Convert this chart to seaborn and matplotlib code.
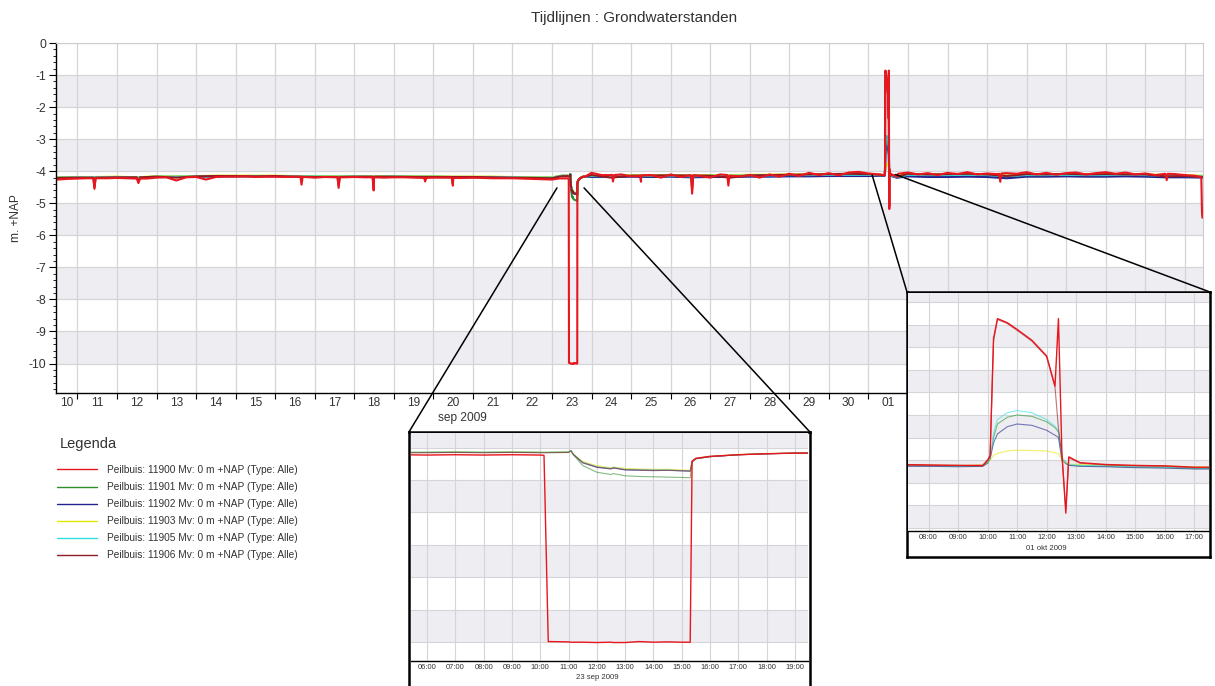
import numpy as np
import pandas as pd
import matplotlib
matplotlib.use("Agg")
import matplotlib.pyplot as plt
import matplotlib.dates as mdates
import matplotlib.transforms as mtransforms
from matplotlib.patches import ConnectionPatch
from matplotlib.lines import Line2D
from matplotlib.ticker import (MultipleLocator, FixedLocator, FixedFormatter,
                               NullFormatter)
import seaborn as sns

sns.set_theme(style="white")
plt.rcParams["font.family"] = ["Liberation Sans", "DejaVu Sans"]
plt.rcParams["axes.unicode_minus"] = False

nan = np.nan

# ---------------------------------------------------------------- data
PEILBUIZEN = ["11900", "11901", "11902", "11903", "11905", "11906"]
KLEUREN = ["#e8161e", "#2f8f2f", "#23238f", "#e6e600", "#35dede", "#8f1c22"]
DRAW_ORDER = ["11901", "11902", "11903", "11905", "11906", "11900"]

# 11900: 6-hourly readings from 10 sep 2009 12:00
level_11900 = [
    -4.26, -4.24,
    -4.23, -4.22, -4.22, -4.22,
    -4.21, -4.22, -4.23, -4.23,
    -4.20, -4.19, -4.29, -4.19,
    -4.18, -4.26, -4.18, -4.17,
    -4.17, -4.16, -4.18, -4.17,
    -4.17, -4.18, -4.17, -4.18,
    -4.20, -4.18, -4.19, -4.19,
    -4.18, -4.19, -4.19, -4.20,
    -4.19, -4.19, -4.20, -4.21,
    -4.20, -4.20, -4.21, -4.21,
    -4.20, -4.21, -4.22, -4.22,
    -4.22, -4.23, -4.24, -4.25,
    -4.26, nan, nan, nan,
    -4.05, -4.12, -4.12, -4.10,
    -4.16, -4.14, -4.12, -4.20,
    -4.10, -4.18, -4.13, -4.15,
    -4.20, -4.10, -4.14, -4.16,
    -4.12, -4.20, -4.10, -4.17,
    -4.08, -4.15, -4.05, -4.12,
    -4.06, -4.13, -4.04, -4.02,
    -4.07, -4.10, nan, -4.08,
    -4.04, -4.10, -4.06, -4.12,
    -4.05, -4.09, -4.03, -4.10,
    -4.07, -4.09, -4.06, -4.08,
    -4.03, -4.10, -4.05, -4.11,
    -4.06, -4.04, -4.10, -4.06,
    -4.03, -4.08, -4.04, -4.10,
    -4.07, -4.12, -4.08, -4.09,
    -4.12, -4.14,
]
# short dips of 11900 (before, lowest, after)
dip_times_11900 = [
    "2009-09-11 09:40", "2009-09-11 10:20", "2009-09-11 11:00",
    "2009-09-12 12:00", "2009-09-12 13:00", "2009-09-12 14:00",
    "2009-09-16 15:20", "2009-09-16 16:00", "2009-09-16 16:40",
    "2009-09-17 13:50", "2009-09-17 14:30", "2009-09-17 15:10",
    "2009-09-18 11:05", "2009-09-18 11:45", "2009-09-18 12:25",
    "2009-09-19 18:20", "2009-09-19 19:00", "2009-09-19 19:40",
    "2009-09-20 11:10", "2009-09-20 11:50", "2009-09-20 12:30",
    "2009-09-24 12:20", "2009-09-24 13:00", "2009-09-24 13:40",
    "2009-09-25 05:20", "2009-09-25 06:00", "2009-09-25 06:40",
    "2009-09-26 12:20", "2009-09-26 13:00", "2009-09-26 13:40",
    "2009-09-27 10:20", "2009-09-27 11:00", "2009-09-27 11:40",
    "2009-10-04 07:20", "2009-10-04 08:00", "2009-10-04 08:40",
    "2009-10-08 12:20", "2009-10-08 13:00", "2009-10-08 13:40",
]
dip_11900 = [
    -4.22, -4.55, -4.22,
    -4.22, -4.37, -4.23,
    -4.17, -4.42, -4.18,
    -4.19, -4.52, -4.19,
    -4.19, -4.60, -4.19,
    -4.20, -4.32, -4.21,
    -4.20, -4.45, -4.21,
    -4.11, -4.32, -4.12,
    -4.15, -4.33, -4.13,
    -4.14, -4.70, -4.13,
    -4.12, -4.45, -4.14,
    -4.08, -4.33, -4.07,
    -4.09, -4.28, -4.08,
]

# other wells: 12-hourly readings from 10 sep 2009 12:00
level_11901 = [
    -4.20, -4.19, -4.19, -4.18, -4.20, -4.17, -4.17, -4.16, -4.15, -4.15,
    -4.15, -4.15, -4.16, -4.16, -4.17, -4.16, -4.17, -4.16, -4.17, -4.17,
    -4.18, -4.18, -4.18, -4.19, -4.20, -4.20, nan, -4.16, -4.16, -4.15,
    -4.15, -4.14, -4.16, -4.15, -4.15, -4.14, -4.14, -4.13, -4.13, -4.12,
    -4.12, -4.12, nan, -4.12, -4.13, -4.13, -4.12, -4.13, -4.16, -4.13,
    -4.13, -4.12, -4.13, -4.13, -4.13, -4.14, -4.15, -4.16, -4.17,
]
level_11902 = [
    -4.21, -4.20, -4.20, -4.19, -4.21, -4.18, -4.18, -4.17, -4.16, -4.16,
    -4.16, -4.16, -4.17, -4.17, -4.18, -4.17, -4.18, -4.17, -4.18, -4.18,
    -4.19, -4.19, -4.19, -4.20, -4.21, -4.21, nan, -4.18, -4.18, -4.17,
    -4.18, -4.17, -4.19, -4.18, -4.18, -4.17, -4.17, -4.16, -4.16, -4.15,
    -4.15, -4.15, nan, -4.16, -4.18, -4.18, -4.17, -4.18, -4.22, -4.17,
    -4.17, -4.16, -4.17, -4.17, -4.16, -4.17, -4.19, -4.19, -4.20,
]
level_11903 = [
    -4.19, -4.18, -4.18, -4.17, -4.19, -4.16, -4.16, -4.15, -4.14, -4.14,
    -4.14, -4.14, -4.15, -4.15, -4.16, -4.15, -4.16, -4.15, -4.16, -4.16,
    -4.17, -4.17, -4.17, -4.18, -4.19, -4.19, nan, -4.13, -4.14, -4.12,
    -4.13, -4.12, -4.14, -4.12, -4.12, -4.11, -4.11, -4.10, -4.10, -4.09,
    -4.09, -4.09, nan, -4.09, -4.10, -4.10, -4.09, -4.10, -4.13, -4.10,
    -4.10, -4.09, -4.10, -4.10, -4.09, -4.10, -4.12, -4.13, -4.14,
]
level_11905 = [
    -4.20, -4.19, -4.19, -4.18, -4.20, -4.17, -4.17, -4.16, -4.15, -4.15,
    -4.15, -4.15, -4.16, -4.16, -4.17, -4.16, -4.17, -4.16, -4.17, -4.17,
    -4.18, -4.18, -4.18, -4.19, -4.20, -4.20, nan, -4.15, -4.16, -4.14,
    -4.15, -4.14, -4.16, -4.14, -4.14, -4.13, -4.13, -4.12, -4.12, -4.11,
    -4.11, -4.11, nan, -4.11, -4.12, -4.12, -4.11, -4.12, -4.15, -4.12,
    -4.12, -4.11, -4.12, -4.12, -4.11, -4.12, -4.14, -4.15, -4.16,
]
level_11906 = [
    -4.21, -4.20, -4.20, -4.19, -4.19, -4.17, -4.20, -4.16, -4.15, -4.15,
    -4.16, -4.15, -4.17, -4.18, -4.18, -4.17, -4.18, -4.17, -4.18, -4.18,
    -4.18, -4.18, -4.19, -4.20, -4.21, -4.22, nan, -4.12, -4.20, -4.14,
    -4.13, -4.13, -4.13, -4.14, -4.20, -4.13, -4.12, -4.11, -4.10, -4.09,
    -4.08, -4.09, nan, -4.08, -4.10, -4.09, -4.08, -4.10, -4.15, -4.09,
    -4.10, -4.08, -4.10, -4.09, -4.10, -4.10, -4.16, -4.15, -4.18,
]
dip_times_11906 = [
    "2009-09-11 09:40", "2009-09-11 10:20", "2009-09-11 11:00",
    "2009-09-12 12:00", "2009-09-12 13:00", "2009-09-12 14:00",
    "2009-09-17 13:50", "2009-09-17 14:30", "2009-09-17 15:10",
    "2009-09-18 11:05", "2009-09-18 11:45", "2009-09-18 12:25",
    "2009-09-20 11:10", "2009-09-20 11:50", "2009-09-20 12:30",
    "2009-09-26 12:20", "2009-09-26 13:00", "2009-09-26 13:40",
]
dip_11906 = [
    -4.20, -4.50, -4.20,
    -4.19, -4.33, -4.19,
    -4.18, -4.45, -4.18,
    -4.17, -4.40, -4.17,
    -4.18, -4.40, -4.18,
    -4.13, -4.55, -4.13,
]

# pumping test 23 sep 2009
sep23_clock = ["05:00", "06:00", "07:00", "08:00", "09:00", "10:00", "10:08",
               "10:17", "11:00", "11:05", "11:10", "11:30", "12:00", "12:30",
               "12:35", "13:00", "13:30", "14:00", "14:30", "15:00", "15:18",
               "15:22", "15:30", "16:00", "17:00", "18:00", "19:00", "20:00"]
sep23_11900 = [-4.22, -4.23, -4.22, -4.23, -4.22, -4.23, -4.24, -9.98, -9.99,
               -10.00, -10.00, -10.00, -10.01, -10.00, -10.01, -10.01, -9.98,
               -10.00, -9.99, -10.00, -10.00, -4.42, -4.33, -4.27, -4.22,
               -4.19, -4.17, -4.17]
sep23_11901 = [-4.15, -4.15, -4.14, -4.15, -4.14, -4.15, -4.15, -4.15, -4.14,
               -4.09, -4.22, -4.55, -4.76, -4.83, -4.80, -4.87, -4.89, -4.90,
               -4.91, -4.92, -4.93, -4.45, -4.35, -4.28, -4.22, -4.19, -4.17,
               -4.17]
sep23_11902 = [-4.15, -4.15, -4.14, -4.15, -4.14, -4.15, -4.15, -4.15, -4.14,
               -4.09, -4.20, -4.47, -4.61, -4.66, -4.63, -4.69, -4.70, -4.71,
               -4.70, -4.72, -4.73, -4.44, -4.34, -4.28, -4.22, -4.19, -4.17,
               -4.17]
sep23_11903 = [-4.14, -4.14, -4.13, -4.14, -4.13, -4.14, -4.14, -4.14, -4.13,
               -4.09, -4.19, -4.43, -4.56, -4.62, -4.60, -4.64, -4.66, -4.67,
               -4.67, -4.69, -4.70, -4.43, -4.33, -4.27, -4.21, -4.18, -4.17,
               -4.16]
sep23_11905 = [-4.15, -4.14, -4.14, -4.14, -4.14, -4.14, -4.15, -4.14, -4.14,
               -4.09, -4.20, -4.45, -4.59, -4.64, -4.61, -4.67, -4.68, -4.69,
               -4.69, -4.71, -4.72, -4.43, -4.34, -4.27, -4.22, -4.19, -4.17,
               -4.17]
sep23_11906 = [-4.16, -4.16, -4.15, -4.16, -4.15, -4.16, -4.16, -4.16, -4.15,
               -4.10, -4.21, -4.46, -4.60, -4.65, -4.62, -4.68, -4.69, -4.70,
               -4.70, -4.71, -4.72, -4.43, -4.34, -4.28, -4.22, -4.19, -4.17,
               -4.17]

# infiltration test 01 okt 2009
oct01_clock = ["07:00", "08:00", "09:00", "09:50", "10:00", "10:05", "10:12",
               "10:20", "10:40", "11:00", "11:30", "12:00", "12:17", "12:24",
               "12:31", "12:39", "12:45", "13:08", "14:00", "15:00", "16:00",
               "17:00", "17:40"]
oct01_11900 = [-4.10, -4.11, -4.12, -4.12, -4.00, -3.90, -1.30, -0.86, -0.95,
               -1.10, -1.34, -1.69, -2.36, -0.86, -3.85, -5.18, -3.93, -4.06,
               -4.10, -4.12, -4.13, -4.16, -4.16]
oct01_11901 = [-4.13, -4.13, -4.14, -4.13, -4.06, -3.97, -3.50, -3.20, -3.05,
               -3.00, -3.03, -3.15, -3.28, -3.38, -3.97, -4.06, -4.11, -4.13,
               -4.14, -4.16, -4.17, -4.19, -4.19]
oct01_11902 = [-4.14, -4.14, -4.15, -4.14, -4.07, -3.98, -3.62, -3.42, -3.26,
               -3.20, -3.23, -3.34, -3.45, -3.50, -4.00, -4.08, -4.12, -4.14,
               -4.15, -4.17, -4.18, -4.20, -4.20]
oct01_11903 = [-4.11, -4.11, -4.12, -4.11, -4.05, -4.00, -3.90, -3.85, -3.80,
               -3.78, -3.79, -3.80, -3.84, -3.86, -4.00, -4.06, -4.09, -4.10,
               -4.11, -4.12, -4.13, -4.15, -4.15]
oct01_11905 = [-4.12, -4.12, -4.13, -4.12, -4.05, -3.95, -3.40, -3.10, -2.95,
               -2.90, -2.95, -3.10, -3.25, -3.35, -3.95, -4.05, -4.10, -4.12,
               -4.13, -4.15, -4.16, -4.18, -4.18]
oct01_11906 = [-4.11, -4.12, -4.12, -4.13, -4.02, -3.92, -1.35, -0.88, -0.97,
               -1.12, -1.36, -1.71, -2.38, -3.30, -3.88, -5.10, -3.95, -4.07,
               -4.11, -4.13, -4.14, -4.17, -4.17]

# last readings of 11900 on 09 okt 2009
tail_clock = ["10:00", "10:25", "10:40", "11:30"]
tail_11900 = [-4.19, -5.30, -5.45, -5.44]

# ---------------------------------------------------------------- frames
t_6h = pd.date_range("2009-09-10 12:00", periods=len(level_11900), freq="6h")
t_12h = pd.date_range("2009-09-10 12:00", periods=len(level_11901), freq="12h")
t_sep23 = pd.to_datetime(["2009-09-23 " + c for c in sep23_clock])
t_oct01 = pd.to_datetime(["2009-10-01 " + c for c in oct01_clock])
t_tail = pd.to_datetime(["2009-10-09 " + c for c in tail_clock])

coarse = {"11900": (t_6h, level_11900), "11901": (t_12h, level_11901),
          "11902": (t_12h, level_11902), "11903": (t_12h, level_11903),
          "11905": (t_12h, level_11905), "11906": (t_12h, level_11906)}
sep23 = dict(zip(PEILBUIZEN, [sep23_11900, sep23_11901, sep23_11902,
                              sep23_11903, sep23_11905, sep23_11906]))
oct01 = dict(zip(PEILBUIZEN, [oct01_11900, oct01_11901, oct01_11902,
                              oct01_11903, oct01_11905, oct01_11906]))
extras = {
    "11900": [(pd.to_datetime(dip_times_11900), dip_11900),
              (t_tail, tail_11900)],
    "11906": [(pd.to_datetime(dip_times_11906), dip_11906)],
}


def frame(pieces):
    rows = [pd.DataFrame({"tijd": t, "stand": v, "peilbuis": pid})
            for pid, t, v in pieces]
    return pd.concat(rows, ignore_index=True).dropna().sort_values("tijd")


main_pieces = []
for pid in PEILBUIZEN:
    main_pieces.append((pid, *coarse[pid]))
    main_pieces.append((pid, t_sep23, sep23[pid]))
    main_pieces.append((pid, t_oct01, oct01[pid]))
    for t, v in extras.get(pid, []):
        main_pieces.append((pid, t, v))
main_df = frame(main_pieces)
sep23_df = frame([(pid, t_sep23, sep23[pid]) for pid in PEILBUIZEN])
oct01_df = frame([(pid, t_oct01, oct01[pid]) for pid in PEILBUIZEN])

PALETTE = dict(zip(PEILBUIZEN, KLEUREN))
TEXT = "#333333"
BAND = "#eeeef2"
GRID = "#d4d4d9"

# ---------------------------------------------------------------- main chart
fig = plt.figure(figsize=(12.15, 6.86), dpi=100)
ax = fig.add_axes([0.0461, 0.4271, 0.9440, 0.5102], zorder=0)
ax.set_facecolor("white")
for top in range(-1, -11, -2):
    ax.axhspan(top - 1, top, color=BAND, lw=0, zorder=0)

sns.lineplot(data=main_df, x="tijd", y="stand", hue="peilbuis",
             hue_order=DRAW_ORDER, palette=PALETTE, estimator=None, sort=True,
             lw=1.5, legend=False, ax=ax)

XLIM = (pd.Timestamp("2009-09-10 11:00"), pd.Timestamp("2009-10-09 11:00"))
ax.set_xlim(*XLIM)
ax.set_ylim(-10.92, 0)
ax.set_axisbelow(True)
ax.grid(True, which="major", color=GRID, lw=0.9)

ax.yaxis.set_major_locator(MultipleLocator(1))
ax.yaxis.set_minor_locator(MultipleLocator(0.2))
ax.tick_params(axis="y", which="major", direction="out", length=5, width=0.8,
               color="black", labelsize=8.8, labelcolor=TEXT, pad=2, left=True)
ax.tick_params(axis="y", which="minor", direction="out", length=2.5,
               width=0.6, color="black", left=True)

days = pd.date_range(XLIM[0].normalize(), XLIM[1].normalize(), freq="D")
label_pos, label_txt = [], []
for d in days:
    a = max(d, XLIM[0])
    b = min(d + pd.Timedelta(days=1), XLIM[1])
    label_pos.append(a + (b - a) / 2)
    label_txt.append(d.strftime("%d"))
ax.xaxis.set_major_locator(mdates.DayLocator())
ax.xaxis.set_major_formatter(NullFormatter())
ax.xaxis.set_minor_locator(FixedLocator(mdates.date2num(label_pos)))
ax.xaxis.set_minor_formatter(FixedFormatter(label_txt))
ax.tick_params(axis="x", which="major", direction="out", length=4, width=0.8,
               color="black", bottom=True)
ax.tick_params(axis="x", which="minor", length=0, labelsize=8.6,
               labelcolor=TEXT, pad=3, bottom=True)

# month caption under the September part of the time axis
month_txt = "sep 2009"
m0, m1 = XLIM[0], pd.Timestamp("2009-10-01")
blend = mtransforms.blended_transform_factory(ax.transData, ax.transAxes)
ax.text(mdates.date2num(m0 + (m1 - m0) / 2), -0.072, month_txt,
        transform=blend, ha="center", va="center", fontsize=8.6, color=TEXT)

for side in ("left", "bottom"):
    ax.spines[side].set_color("black")
    ax.spines[side].set_linewidth(1.0)
for side in ("top", "right"):
    ax.spines[side].set_color("#cccccc")
    ax.spines[side].set_linewidth(0.8)

ax.set_xlabel("")
ax.set_ylabel("m. +NAP", fontsize=8.6, color=TEXT)
ax.yaxis.set_label_coords(-0.0296, 0.5)

fig.text(0.522, 1 - 18 / 686, "Tijdlijnen : Grondwaterstanden",
         ha="center", va="center", fontsize=11, color=TEXT)


# ---------------------------------------------------------------- zoom panels
def zoom_panel(frame_rect, ax_rect, df, xlim, ylim, step, grey_tops,
               date_text, date_y):
    box = fig.add_axes(frame_rect, zorder=3)
    box.set_facecolor("white")
    box.set_xticks([])
    box.set_yticks([])
    for s in box.spines.values():
        s.set_color("black")
        s.set_linewidth(1.8)

    iax = fig.add_axes(ax_rect, zorder=4)
    iax.set_facecolor("white")
    for top in grey_tops:
        iax.axhspan(top - step, top, color=BAND, lw=0, zorder=0)
    for pid in DRAW_ORDER:
        sub = df[df["peilbuis"] == pid]
        strong = pid == "11900"
        sns.lineplot(data=sub, x="tijd", y="stand", color=PALETTE[pid],
                     estimator=None, sort=True,
                     lw=1.0 if strong else 0.8,
                     alpha=1.0 if strong else 0.6,
                     legend=False, ax=iax)
    iax.set_xlim(*xlim)
    iax.set_ylim(*ylim)
    iax.set_axisbelow(True)
    iax.yaxis.set_major_locator(MultipleLocator(step))
    iax.xaxis.set_major_locator(mdates.HourLocator())
    iax.xaxis.set_major_formatter(mdates.DateFormatter("%H:%M"))
    iax.grid(True, color=GRID, lw=0.8)
    iax.tick_params(axis="y", left=False, labelleft=False)
    iax.tick_params(axis="x", length=0, labelsize=5.4, labelcolor=TEXT,
                    pad=2.2)
    for side in ("left", "top", "right"):
        iax.spines[side].set_visible(False)
    iax.spines["bottom"].set_color("black")
    iax.spines["bottom"].set_linewidth(1.0)
    iax.set_xlabel("")
    iax.set_ylabel("")
    day = xlim[0].normalize()
    btf = mtransforms.blended_transform_factory(iax.transData, iax.transAxes)
    iax.text(mdates.date2num(day + pd.Timedelta(hours=12)), date_y, date_text,
             transform=btf, ha="center", va="center", fontsize=5.6,
             color=TEXT)
    return box


box1 = zoom_panel([0.3366, -0.005, 0.3300, 0.3753],
                  [0.3379, 0.0369, 0.3272, 0.3319], sep23_df,
                  (pd.Timestamp("2009-09-23 05:25"),
                   pd.Timestamp("2009-09-23 19:28")),
                  (-10.57, -3.55), 1.0, [-3, -5, -7, -9],
                  "23 sep 2009", -0.076)
box2 = zoom_panel([0.7465, 0.1880, 0.2494, 0.3863],
                  [0.7473, 0.2264, 0.2477, 0.3465], oct01_df,
                  (pd.Timestamp("2009-10-01 07:18"),
                   pd.Timestamp("2009-10-01 17:30")),
                  (-5.57, -0.29), 0.5, [0, -1, -2, -3, -4, -5],
                  "01 okt 2009", -0.073)

# leader lines from the zoomed stretches to their panels
leaders = [(box1, "2009-09-23 03:00", -4.52, (0, 1)),
           (box1, "2009-09-23 19:25", -4.52, (1, 1)),
           (box2, "2009-10-01 02:15", -4.12, (0, 1)),
           (box2, "2009-10-01 16:20", -4.10, (1, 1))]
for box, t, y, corner in leaders:
    con = ConnectionPatch(xyA=(mdates.date2num(pd.Timestamp(t)), y),
                          coordsA=ax.transData, xyB=corner,
                          coordsB=box.transAxes, color="black", lw=1.1,
                          zorder=2)
    fig.add_artist(con)

# ---------------------------------------------------------------- legend
handles = [Line2D([], [], color=PALETTE[p], lw=1.0) for p in PEILBUIZEN]
labels = [f"Peilbuis: {p} Mv: 0 m +NAP (Type: Alle)" for p in PEILBUIZEN]
fig.legend(handles, labels, loc="upper left",
           bbox_to_anchor=(57 / 1215, 1 - 465 / 686), frameon=False,
           fontsize=7.3, handlelength=3.95, handletextpad=0.99,
           labelspacing=0.70, borderpad=0, borderaxespad=0,
           labelcolor=TEXT)
fig.text(60 / 1215, 1 - 444 / 686, "Legenda", ha="left", va="center",
         fontsize=10.5, color=TEXT)

fig.savefig("out.png", dpi=100, facecolor="white")
